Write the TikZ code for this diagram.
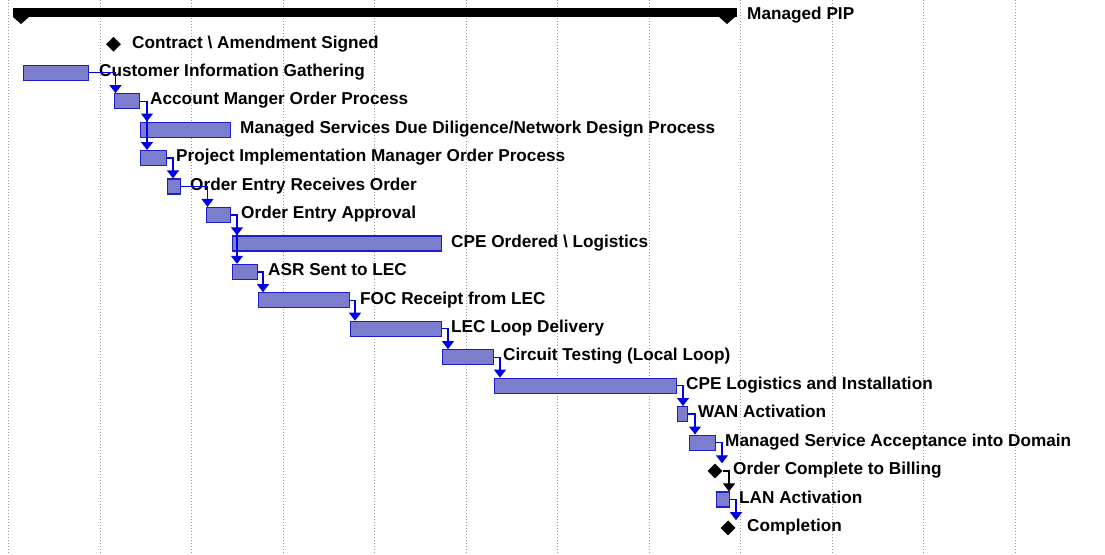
\documentclass[tikz,border=0pt]{standalone}
\usepackage{fontspec}
\setmainfont{Liberation Sans}
\usepackage{tikz}
\usetikzlibrary{arrows.meta,shapes.geometric,calc}
\usepackage{xcolor}
\definecolor{barfill}{RGB}{125,125,205}
\definecolor{barline}{RGB}{30,30,200}
\definecolor{linkblue}{RGB}{0,0,230}
\definecolor{gridgray}{RGB}{150,150,150}

\tikzset{
  taskbar/.style={draw=barline, fill=barfill, line width=1.2pt, rectangle,
    minimum height=15pt, inner sep=0pt, anchor=west},
  milestone/.style={diamond, fill=black, minimum size=15pt, inner sep=0pt},
  tasklabel/.style={anchor=base west, inner sep=0pt,
    font=\bfseries\fontsize{17.2}{20}\selectfont},
  link/.style={draw=linkblue, line width=1.3pt,
    -{Triangle[width=12pt,length=8pt]}},
  blacklink/.style={link, draw=black},
}

\begin{document}
\begin{tikzpicture}[x=1pt,y=-1pt]
    \useasboundingbox (0,0) rectangle (1105,554);
    % timescale grid
    \foreach \k in {0,...,11}
        \draw[gridgray, dotted, line width=1pt] ({8.5+91.5*\k},0) -- ({8.5+91.5*\k},554);

    % summary bar
    \fill (13,8) rectangle (737,17);
    \fill (13,17) -- (29,17) -- (21,24) -- cycle;
    \fill (719,17) -- (735,17) -- (727,24) -- cycle;
    \node[tasklabel] (t-pip) at (747,19.5) {Managed PIP};

    % tasks
    \node[milestone] (cas) at (113.5,44.3) {};
    \node[taskbar, minimum width=65pt] (cig) at (23,72.7) {};
    \node[taskbar, minimum width=25pt] (amop) at (114,101.2) {};
    \node[taskbar, minimum width=90pt] (msdd) at (140,129.6) {};
    \node[taskbar, minimum width=26pt] (pimop) at (140,158.1) {};
    \node[taskbar, minimum width=13pt] (eero) at (167,186.5) {};
    \node[taskbar, minimum width=24pt] (eea) at (206,215.0) {};
    \node[taskbar, minimum width=209pt] (cpeo) at (232,243.4) {};
    \node[taskbar, minimum width=25pt] (asr) at (232,271.9) {};
    \node[taskbar, minimum width=91pt] (foc) at (258,300.3) {};
    \node[taskbar, minimum width=91pt] (lec) at (350,328.8) {};
    \node[taskbar, minimum width=51pt] (ct) at (442,357.2) {};
    \node[taskbar, minimum width=182pt] (cpel) at (494,385.7) {};
    \node[taskbar, minimum width=10pt] (wan) at (677,414.1) {};
    \node[taskbar, minimum width=26pt] (msa) at (689,442.6) {};
    \node[milestone] (ocb) at (715,471.0) {};
    \node[taskbar, minimum width=13pt] (lan) at (716,499.5) {};
    \node[milestone] (comp) at (728,527.9) {};

    % task names
    \node[tasklabel] (t-cas) at (132,48.0) {Contract \textbackslash{} Amendment Signed};
    \node[tasklabel] (t-cig) at (99,76.4) {Customer Information Gathering};
    \node[tasklabel] (t-amop) at (150,104.9) {Account Manger Order Process};
    \node[tasklabel] (t-msdd) at (240,133.3) {Managed Services Due Diligence/Network Design Process};
    \node[tasklabel] (t-pimop) at (176,161.8) {Project Implementation Manager Order Process};
    \node[tasklabel] (t-eero) at (190,190.2) {Order Entry Receives Order};
    \node[tasklabel] (t-eea) at (241,218.7) {Order Entry Approval};
    \node[tasklabel] (t-cpeo) at (451,247.1) {CPE Ordered \textbackslash{} Logistics};
    \node[tasklabel] (t-asr) at (268,275.6) {ASR Sent to LEC};
    \node[tasklabel] (t-foc) at (360,304.0) {FOC Receipt from LEC};
    \node[tasklabel] (t-lec) at (451,332.5) {LEC Loop Delivery};
    \node[tasklabel] (t-ct) at (503,360.9) {Circuit Testing (Local Loop)};
    \node[tasklabel] (t-cpel) at (686,389.4) {CPE Logistics and Installation};
    \node[tasklabel] (t-wan) at (698,417.8) {WAN Activation};
    \node[tasklabel] (t-msa) at (725,446.3) {Managed Service Acceptance into Domain};
    \node[tasklabel] (t-ocb) at (733,474.7) {Order Complete to Billing};
    \node[tasklabel] (t-lan) at (739,503.2) {LAN Activation};
    \node[tasklabel] (t-comp) at (747,531.6) {Completion};

    % dependencies
    \draw[link] (cig.east) -| ([xshift=1.5pt]amop.north west);
    \draw[link] (amop.east) -| ([xshift=7pt]msdd.north west);
    \draw[link] (amop.east) -| ([xshift=7pt]pimop.north west);
    \draw[link] (pimop.east) -| ([xshift=6pt]eero.north west);
    \draw[link] (eero.east) -| ([xshift=1.5pt]eea.north west);
    \draw[link] (eea.east) -| ([xshift=5pt]cpeo.north west);
    \draw[link] (eea.east) -| ([xshift=5pt]asr.north west);
    \draw[link] (asr.east) -| ([xshift=5pt]foc.north west);
    \draw[link] (foc.east) -| ([xshift=5pt]lec.north west);
    \draw[link] (lec.east) -| ([xshift=6pt]ct.north west);
    \draw[link] (ct.east) -| ([xshift=6pt]cpel.north west);
    \draw[link] (cpel.east) -| ([xshift=6pt]wan.north west);
    \draw[link] (wan.east) -| ([xshift=6pt]msa.north west);
    \draw[link] (msa.east) -| ([xshift=7pt]ocb.north);
    \draw[blacklink] (ocb.east) -| ([xshift=13pt]lan.north west);
    \draw[link] (lan.east) -| ([xshift=8pt]comp.north);
\end{tikzpicture}
\end{document}
